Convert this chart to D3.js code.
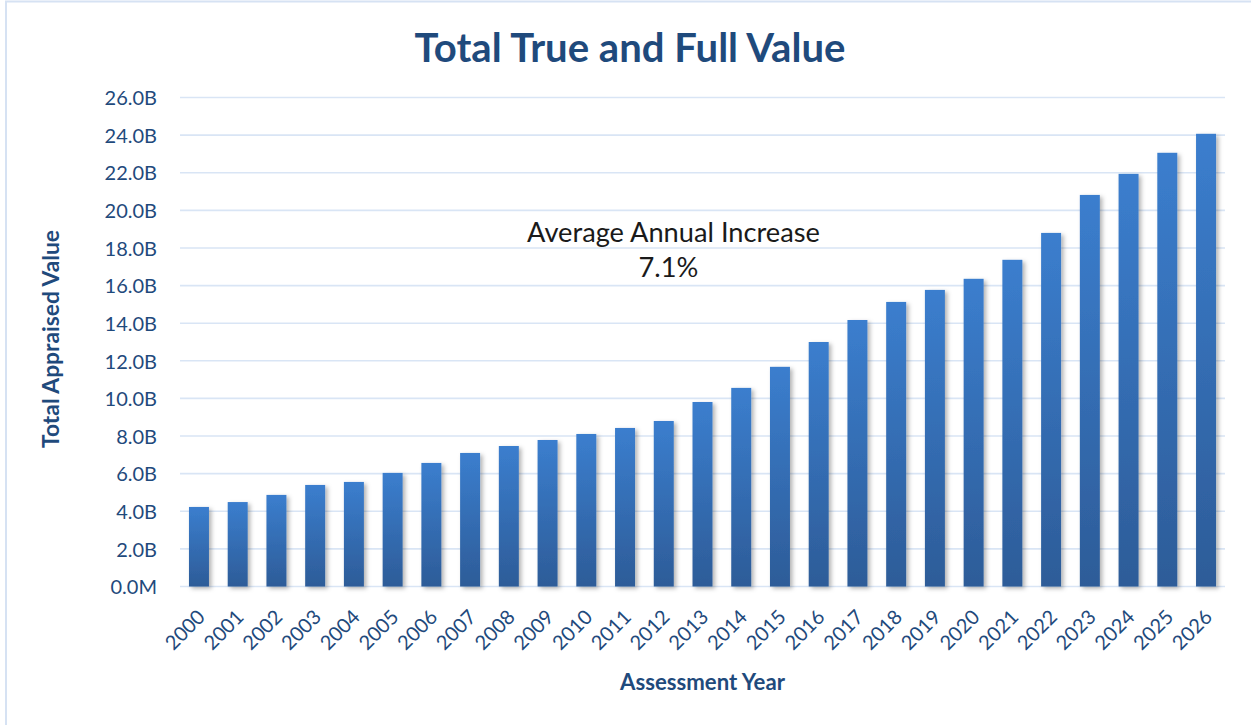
<!DOCTYPE html>
<html>
<head>
<meta charset="utf-8">
<script src="https://cdn.jsdelivr.net/npm/d3@7"></script>
<style>
  html, body { margin: 0; padding: 0; background: #fff; }
  svg { display: block; }
  text { font-family: Lato, "Open Sans", sans-serif; }
</style>
</head>
<body>
<svg id="chart" width="1251" height="725"></svg>
<script>
// ---- data ----
const years = ["2000","2001","2002","2003","2004","2005","2006","2007","2008","2009",
  "2010","2011","2012","2013","2014","2015","2016","2017","2018","2019",
  "2020","2021","2022","2023","2024","2025","2026"];
// total true and full value, billions
const values = [4.23, 4.49, 4.87, 5.40, 5.56, 6.04, 6.57, 7.10, 7.47, 7.79,
  8.11, 8.43, 8.80, 9.81, 10.56, 11.68, 13.00, 14.17, 15.13, 15.77,
  16.36, 17.37, 18.80, 20.82, 21.94, 23.06, 24.07];
const yTicks = [0, 2, 4, 6, 8, 10, 12, 14, 16, 18, 20, 22, 24, 26];
const yTickLabels = ["0.0M","2.0B","4.0B","6.0B","8.0B","10.0B","12.0B","14.0B",
  "16.0B","18.0B","20.0B","22.0B","24.0B","26.0B"];
const title = "Total True and Full Value";
const xTitle = "Assessment Year";
const yTitle = "Total Appraised Value";
const note1 = "Average Annual Increase";
const note2 = "7.1%";

// ---- drawing ----
const svg = d3.select("#chart");
const navy = "#1F4A7C";

// outer border
svg.append("rect").attr("x", 6).attr("y", 1.5).attr("width", 1260).attr("height", 740)
  .attr("fill", "none").attr("stroke", "#D6E2F3").attr("stroke-width", 2);

const x = d3.scaleBand().domain(years).range([179.6, 1225.4])
  .paddingInner(0.484).paddingOuter(0.242);
const y = d3.scaleLinear().domain([0, 26]).range([586.5, 97.5]);

const defs = svg.append("defs");
const grad = defs.append("linearGradient").attr("id", "barGrad")
  .attr("x1", 0).attr("y1", 0).attr("x2", 0).attr("y2", 1);
grad.append("stop").attr("offset", "0%").attr("stop-color", "#3B7ECE");
grad.append("stop").attr("offset", "100%").attr("stop-color", "#2D5C98");
const shadow = defs.append("filter").attr("id", "shadow")
  .attr("x", "-30%").attr("y", "-10%").attr("width", "170%").attr("height", "130%");
shadow.append("feDropShadow").attr("dx", 2.5).attr("dy", 2).attr("stdDeviation", 2)
  .attr("flood-color", "#000").attr("flood-opacity", 0.3);

// gridlines
svg.append("g").selectAll("line").data(yTicks).join("line")
  .attr("x1", 180).attr("x2", 1225)
  .attr("y1", d => y(d)).attr("y2", d => y(d))
  .attr("stroke", "#D9E5F5").attr("stroke-width", 1.6);

// y axis labels
const yAxis = d3.axisLeft(y).tickValues(yTicks)
  .tickFormat((d, i) => yTickLabels[i]).tickSize(0).tickPadding(0);
const gy = svg.append("g").attr("transform", "translate(157,0)").call(yAxis);
gy.select(".domain").remove();
gy.selectAll("text").attr("fill", navy).style("font-size", "20px")
  .style("font-family", "Lato, sans-serif").attr("dy", "0.36em");

// bars
svg.append("g").selectAll("rect").data(values).join("rect")
  .attr("x", (d, i) => x(years[i]))
  .attr("width", x.bandwidth())
  .attr("y", d => y(d))
  .attr("height", d => y(0) - y(d))
  .attr("fill", "url(#barGrad)")
  .attr("filter", "url(#shadow)");

// x axis labels
const xAxis = d3.axisBottom(x).tickSize(0).tickPadding(0);
const gx = svg.append("g").attr("transform", "translate(0,598)").call(xAxis);
gx.select(".domain").remove();
gx.selectAll("text")
  .attr("fill", navy).style("font-size", "20px").style("font-family", "Lato, sans-serif")
  .attr("text-anchor", "end").attr("dy", null).attr("y", 0)
  .attr("transform", "translate(-4,9) rotate(-45)")
  .attr("dominant-baseline", "hanging");

function fit(sel, w) {
  let fs = parseFloat(sel.style("font-size"));
  const cur = sel.node().getComputedTextLength();
  sel.style("font-size", (fs * w / cur) + "px");
}

// title
const t = svg.append("text").attr("x", 630).attr("y", 62).attr("text-anchor", "middle")
  .attr("fill", navy).style("font-weight", "700").style("font-size", "36px").text(title);
fit(t, 431);

// axis titles
const xt = svg.append("text").attr("x", 702.5).attr("y", 690).attr("text-anchor", "middle")
  .attr("fill", navy).style("font-weight", "700").style("font-size", "18px").text(xTitle);
fit(xt, 165);
const yt = svg.append("text").attr("transform", "translate(59,339) rotate(-90)")
  .attr("text-anchor", "middle")
  .attr("fill", navy).style("font-weight", "700").style("font-size", "18px").text(yTitle);
fit(yt, 218);

// annotation
const n1 = svg.append("text").attr("x", 673.5).attr("y", 242).attr("text-anchor", "middle")
  .attr("fill", "#1a1a1a").style("font-size", "24px").text(note1);
fit(n1, 293);
const n2 = svg.append("text").attr("x", 668.5).attr("y", 277).attr("text-anchor", "middle")
  .attr("fill", "#1a1a1a").style("font-size", n1.style("font-size")).text(note2);
</script>
</body>
</html>
